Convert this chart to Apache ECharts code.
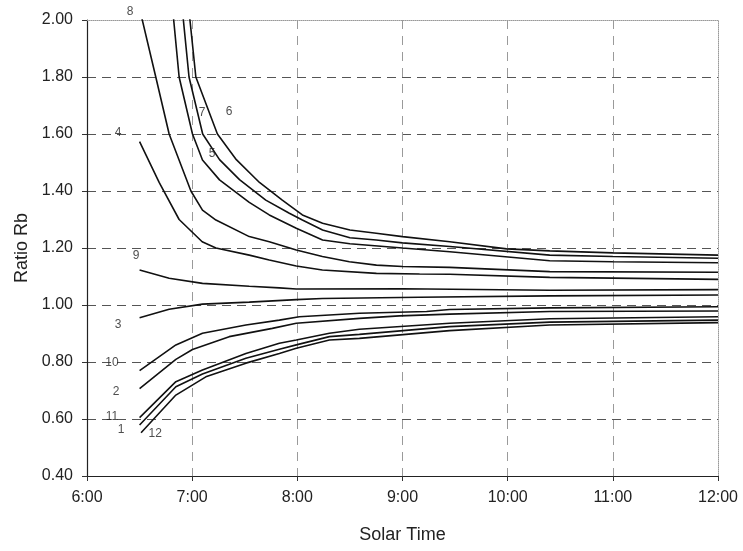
<!DOCTYPE html>
<html>
<head>
<meta charset="utf-8">
<script src="https://cdn.jsdelivr.net/npm/echarts@6/dist/echarts.min.js"></script>
<style>html,body{margin:0;padding:0;background:#fff}#c{width:743px;height:551px}</style>
</head>
<body>
<div id="c"></div>
<script>
// time in decimal hours, value = ratio Rb
const xTicks = ['6:00','7:00','8:00','9:00','10:00','11:00','12:00'];
const yTicks = [0.4,0.6,0.8,1.0,1.2,1.4,1.6,1.8,2.0];

const curve6 = [[6.92,2.21],[7.035,1.80],[7.24,1.60],[7.42,1.51],[7.64,1.43],[7.857,1.368],[8.048,1.316],[8.24,1.287],[8.50,1.263],[8.75,1.252],[9.0,1.240],[9.45,1.222],[9.99,1.197],[10.4,1.190],[11.0,1.183],[12.0,1.175]];
const curve7 = [[6.86,2.21],[6.97,1.80],[7.10,1.60],[7.26,1.51],[7.45,1.44],[7.70,1.368],[7.924,1.322],[8.048,1.298],[8.24,1.263],[8.50,1.236],[8.75,1.228],[9.0,1.218],[9.45,1.205],[10.4,1.175],[11.0,1.170],[12.0,1.164]];
const curve5 = [[6.77,2.21],[6.876,1.80],[7.003,1.60],[7.098,1.509],[7.26,1.439],[7.543,1.36],[7.733,1.316],[7.99,1.269],[8.24,1.228],[8.50,1.215],[9.0,1.200],[9.45,1.187],[10.4,1.155],[11.0,1.152],[12.0,1.148]];
const curve8 = [[6.50,2.04],[6.654,1.80],[6.781,1.60],[6.988,1.40],[7.098,1.333],[7.226,1.298],[7.543,1.240],[7.733,1.222],[7.99,1.193],[8.238,1.170],[8.495,1.152],[8.752,1.140],[9.0,1.135],[9.448,1.132],[10.4,1.117],[12.0,1.115]];
const curve4 = [[6.50,1.573],[6.686,1.43],[6.876,1.30],[7.095,1.222],[7.226,1.20],[7.543,1.175],[7.733,1.158],[7.99,1.137],[8.238,1.123],[8.752,1.111],[9.162,1.109],[9.448,1.108],[10.4,1.097],[12.0,1.090]];
const curve9 = [[6.50,1.123],[6.781,1.094],[7.098,1.076],[7.543,1.066],[7.829,1.060],[7.99,1.056],[9.0,1.057],[10.4,1.052],[12.0,1.054]];
const curve3 = [[6.50,0.955],[6.781,0.985],[7.098,1.003],[7.543,1.010],[7.99,1.019],[8.238,1.023],[9.162,1.027],[10.4,1.032],[12.0,1.035]];
const curve10 = [[6.50,0.770],[6.845,0.860],[7.098,0.901],[7.511,0.930],[7.829,0.947],[8.019,0.959],[8.59,0.971],[9.229,0.977],[9.448,0.984],[10.4,0.990],[12.0,0.994]];
const curve2 = [[6.50,0.707],[6.845,0.809],[7.003,0.844],[7.352,0.889],[7.762,0.918],[7.99,0.936],[8.59,0.953],[8.971,0.962],[9.448,0.968],[10.4,0.977],[12.0,0.979]];
const curve11 = [[6.50,0.605],[6.845,0.731],[7.098,0.772],[7.511,0.830],[7.829,0.866],[7.99,0.877],[8.305,0.901],[8.59,0.915],[9.448,0.936],[10.4,0.952],[12.0,0.959]];
const curve1 = [[6.50,0.579],[6.845,0.713],[7.098,0.758],[7.511,0.813],[7.829,0.845],[7.99,0.860],[8.305,0.889],[8.59,0.897],[9.448,0.924],[10.4,0.940],[12.0,0.947]];
const curve12 = [[6.514,0.552],[6.845,0.684],[7.13,0.748],[7.511,0.796],[7.829,0.830],[7.99,0.848],[8.305,0.877],[8.59,0.883],[9.448,0.910],[10.4,0.930],[12.0,0.938]];

const curveNames = ['6','7','5','8','4','9','3','10','2','11','1','12'];
const curves = [curve6,curve7,curve5,curve8,curve4,curve9,curve3,curve10,curve2,curve11,curve1,curve12];

// curve number labels: [time, value, text]
const curveLabels = [
  [6.41,2.028,'8'],[7.095,1.674,'7'],[7.352,1.677,'6'],[7.19,1.53,'5'],
  [6.295,1.604,'4'],[6.467,1.172,'9'],[6.295,0.930,'3'],[6.238,0.796,'10'],
  [6.276,0.695,'2'],[6.238,0.607,'11'],[6.324,0.561,'1'],[6.648,0.547,'12']
];

const FONT = 'Liberation Sans, Arial, sans-serif';
const chart = echarts.init(document.getElementById('c'));
const series = curves.map((d,i)=>({
  name: curveNames[i], type:'line', data:d, symbol:'none', clip:true,
  lineStyle:{color:'#111', width:1.6}, z:3, animation:false
}));
series.push({
  type:'scatter', data:curveLabels, symbolSize:0, clip:false, z:5, animation:false,
  label:{show:true, position:'inside', formatter:p=>p.data[2], color:'#222', fontSize:12, fontFamily:FONT}
});
chart.setOption({
  animation:false,
  backgroundColor:'#fff',
  grid:{left:87, right:25, top:20, bottom:75},
  xAxis:[{
    type:'value', min:6, max:12, interval:1,
    name:'Solar Time', nameLocation:'middle', nameGap:50,
    nameTextStyle:{fontSize:18, color:'#222', fontFamily:FONT},
    axisLine:{show:true, lineStyle:{color:'#222', width:1.2}},
    axisTick:{show:true, inside:false, length:5, lineStyle:{color:'#333'}},
    axisLabel:{margin:14, fontSize:16, color:'#222', fontFamily:FONT, formatter:v=>xTicks[Math.round(v-6)]},
    splitLine:{show:true, lineStyle:{type:[9,7], width:1, color:['transparent','#9a9a9a','#9a9a9a','#9a9a9a','#9a9a9a','#9a9a9a','transparent']}}
  },{
    type:'value', min:6, max:12, position:'top',
    axisLine:{show:true, lineStyle:{color:'#999', type:'dotted', width:1}},
    axisTick:{show:false}, axisLabel:{show:false}, splitLine:{show:false}
  }],
  yAxis:[{
    type:'value', min:0.4, max:2.0, interval:0.2,
    name:'Ratio Rb', nameLocation:'middle', nameGap:56, nameRotate:90,
    nameTextStyle:{fontSize:18, color:'#222', fontFamily:FONT},
    axisLine:{show:true, lineStyle:{color:'#222', width:1.2}},
    axisTick:{show:true, inside:false, length:5, lineStyle:{color:'#333'}},
    axisLabel:{margin:14, fontSize:16, color:'#222', fontFamily:FONT, formatter:v=>v.toFixed(2)},
    splitLine:{show:true, lineStyle:{type:[9,6], width:1, color:['transparent','#555','#555','#555','#555','#555','#555','#555','transparent']}}
  },{
    type:'value', min:0.4, max:2.0, position:'right',
    axisLine:{show:true, lineStyle:{color:'#999', type:'dotted', width:1}},
    axisTick:{show:false}, axisLabel:{show:false}, splitLine:{show:false}
  }],
  series: series
});
</script>
</body>
</html>
